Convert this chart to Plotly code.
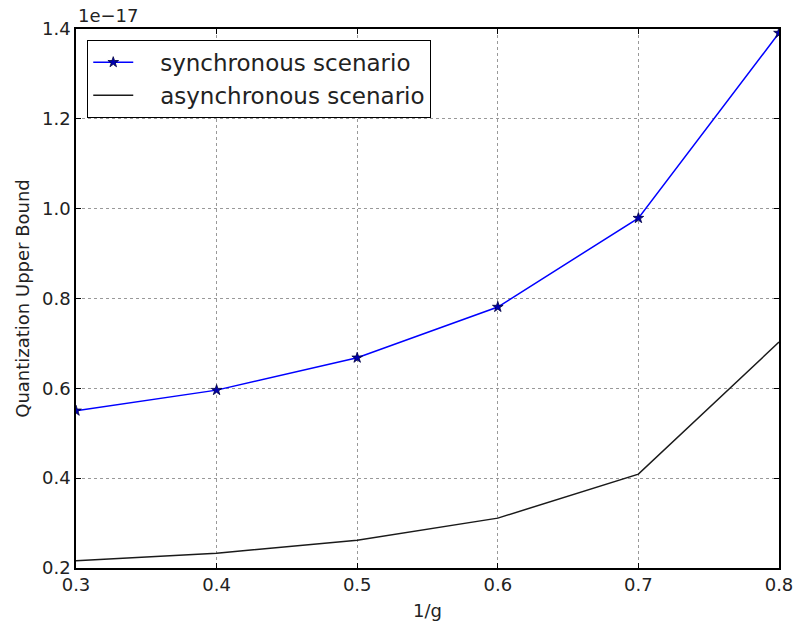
import plotly.graph_objects as go

# Data (values in units of 1e-17)
inv_g = [0.3, 0.4, 0.5, 0.6, 0.7, 0.8]
sync_vals = [0.550, 0.596, 0.668, 0.781, 0.979, 1.391]
async_vals = [0.216, 0.233, 0.262, 0.311, 0.409, 0.703]
x_ticks = [0.3, 0.4, 0.5, 0.6, 0.7, 0.8]
y_ticks = [0.2, 0.4, 0.6, 0.8, 1.0, 1.2, 1.4]
y_tick_text = ["0.2", "0.4", "0.6", "0.8", "1.0", "1.2", "1.4"]
series_names = ["synchronous scenario", "asynchronous scenario"]
offset_label = "1e\u221217"

FONT = "DejaVu Sans"
PAD = "\u00a0\u00a0\u00a0"  # visual gap between legend sample and label

fig = go.Figure()
fig.add_trace(go.Scatter(
    x=inv_g, y=sync_vals, mode="lines+markers", name=PAD + series_names[0],
    line=dict(color="#0000ff", width=1.5),
    marker=dict(symbol="star", size=8, color="#0000b0", line=dict(color="#000040", width=0.8)),
))
fig.add_trace(go.Scatter(
    x=inv_g, y=async_vals, mode="lines", name=PAD + series_names[1],
    line=dict(color="#1a1a1a", width=1.5),
))

axis_common = dict(
    showline=True, linecolor="black", linewidth=1.5, mirror="ticks",
    ticks="inside", ticklen=5, tickcolor="black", tickwidth=1,
    showgrid=True, gridcolor="#999999", griddash="dot", gridwidth=1,
    zeroline=False, automargin=False,
    tickfont=dict(family=FONT, size=18, color="#222222"),
)

fig.update_xaxes(range=[0.3, 0.8], tickvals=x_ticks, ticktext=[str(v) for v in x_ticks],
                 title=dict(text="1/g", font=dict(family=FONT, size=18, color="#222222"), standoff=10),
                 **axis_common)
fig.update_yaxes(range=[0.2, 1.4], tickvals=y_ticks, ticktext=y_tick_text,
                 title=dict(text="Quantization Upper Bound", font=dict(family=FONT, size=18, color="#222222"), standoff=8),
                 **axis_common)

fig.add_annotation(text=offset_label, xref="paper", yref="paper", x=0, y=1.0,
                   xanchor="left", yanchor="bottom", showarrow=False, yshift=1,
                   font=dict(family=FONT, size=18, color="#222222"))

fig.update_layout(
    width=794, height=627,
    margin=dict(l=76, r=15, t=29, b=59),
    paper_bgcolor="white", plot_bgcolor="white",
    font=dict(family=FONT, color="#222222"),
    legend=dict(x=0.016, y=0.98, xanchor="left", yanchor="top",
                bgcolor="white", bordercolor="black", borderwidth=1,
                font=dict(family=FONT, size=23, color="#222222"),
                itemwidth=40, tracegroupgap=0),
    showlegend=True,
)

fig.write_html("out.html")
